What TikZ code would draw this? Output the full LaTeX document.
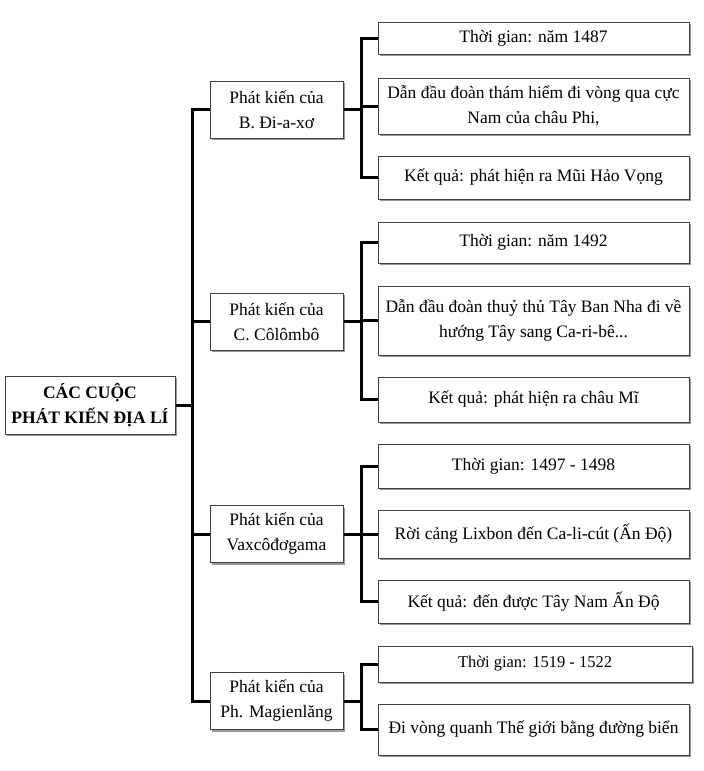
\documentclass[tikz,border=0pt]{standalone}
\usepackage{fontspec}
\setmainfont{Liberation Serif}
\usetikzlibrary{shadows}
\begin{document}
\begin{tikzpicture}[x=1pt,y=-1pt,
  box/.style={draw=black!75, line width=1pt, fill=white, align=center, inner sep=2pt,
    font=\fontsize{17.5}{25}\selectfont,
    drop shadow={shadow xshift=2.2pt, shadow yshift=-2.2pt, fill=black!40, opacity=1}},
  rootbox/.style={box, font=\fontsize{17.5}{25}\selectfont\bfseries, minimum width=170pt, minimum height=58pt},
  lone/.style={box, minimum width=133pt, minimum height=57pt},
  ltwo/.style={box, minimum width=311pt},
  conn/.style={line width=3pt, line join=miter, black}]
\useasboundingbox (0,0) rectangle (704,771);
% root
\node[rootbox] (root) at (90,405) {CÁC CUỘC\\PHÁT KIẾN ĐỊA LÍ};
% level 1
\node[lone] (a) at (276.5,109.5) {Phát kiến của\\B. Đi-a-xơ};
\node[lone] (b) at (276.5,321.5) {Phát kiến của\\C. Côlômbô};
\node[lone] (c) at (276.5,534) {Phát kiến của\\Vaxcôđơgama};
\node[lone] (d) at (276.5,701) {Phát kiến của\\Ph. Magienlăng};
% level 2
\node[ltwo, minimum height=32pt] (a1) at (533.5,38) {Thời gian: năm 1487};
\node[ltwo, minimum height=56pt] (a2) at (533.5,106) {Dẫn đầu đoàn thám hiểm đi vòng qua cực\\Nam của châu Phi,};
\node[ltwo, minimum height=43pt] (a3) at (533.5,177.5) {Kết quả: phát hiện ra Mũi Hảo Vọng};
\node[ltwo, minimum height=41pt] (b1) at (533.5,242.5) {Thời gian: năm 1492};
\node[ltwo, minimum height=69pt] (b2) at (533.5,320.5) {Dẫn đầu đoàn thuỷ thủ Tây Ban Nha đi về\\hướng Tây sang Ca-ri-bê...};
\node[ltwo, minimum height=45pt] (b3) at (533.5,399.5) {Kết quả: phát hiện ra châu Mĩ};
\node[ltwo, minimum height=44pt] (c1) at (533.5,466) {Thời gian: 1497 - 1498};
\node[ltwo, minimum height=48pt] (c2) at (533.5,534) {Rời cảng Lixbon đến Ca-li-cút (Ấn Độ)};
\node[ltwo, minimum height=43pt] (c3) at (533.5,601.5) {Kết quả: đến được Tây Nam Ấn Độ};
\node[ltwo, minimum width=314pt, minimum height=36pt, font=\fontsize{16.5}{25}\selectfont] (d1) at (535,664) {Thời gian: 1519 - 1522};
\node[ltwo, minimum height=51pt] (d2) at (533.5,729.5) {Đi vòng quanh Thế giới bằng đường biển};
% trunk coordinates
\coordinate (tx) at (192,0);
\coordinate (sx) at (361,0);
% root connectors
\draw[conn] (root.east) -- (root.east -| tx);
\draw[conn] (a.west) -| (tx |- d.west) -- (d.west);
\draw[conn] (b.west) -- (b.west -| tx);
\draw[conn] (c.west) -- (c.west -| tx);
% group connectors
\foreach \p/\q in {a/a3, b/b3, c/c3, d/d2}{
  \draw[conn] (\p.east) -- (\p.east -| sx);
  \draw[conn] (\p1.west) -| (sx |- \q.west) -- (\q.west);
}
\draw[conn] (a2.west) -- (a2.west -| sx);
\draw[conn] (b2.west) -- (b2.west -| sx);
\draw[conn] (c2.west) -- (c2.west -| sx);
\end{tikzpicture}
\end{document}
